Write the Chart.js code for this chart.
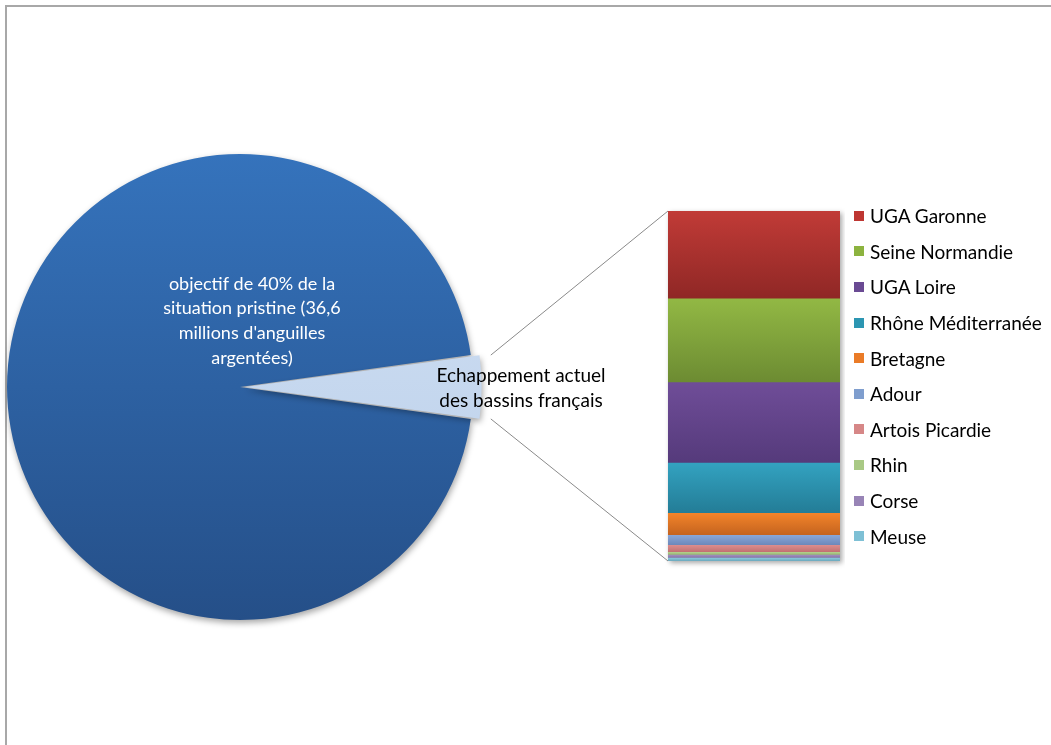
<!DOCTYPE html>
<html>
<head>
<meta charset="utf-8">
<title>Echappement des anguilles argentées</title>
<script src="https://cdn.jsdelivr.net/npm/chart.js"></script>
<style>
    body { margin: 0; background: #fff; overflow: hidden; }
    #page { position: relative; width: 1051px; height: 745px; overflow: hidden; font-family: Lato, sans-serif; }
    #frame { position: absolute; left: 5px; top: 5px; right: -10px; bottom: -10px;
             border-top: 2px solid #a8a8a8; border-left: 2px solid #a8a8a8; }
    #pieChart { position: absolute; left: 0; top: 0; }
    #barChart { position: absolute; left: 660px; top: 195px; }
    #legend { position: absolute; left: 854px; top: 198px; margin: 0; padding: 0; list-style: none; }
    #legend li { height: 35.6px; display: flex; align-items: center; font-size: 19px; color: #000; white-space: nowrap; }
    #legend .box { width: 10px; height: 10px; margin-right: 6px; flex: none; }
</style>
</head>
<body>
<div id="page">
    <div id="frame"></div>
    <canvas id="pieChart" width="1051" height="745"></canvas>
    <canvas id="barChart" width="185" height="385"></canvas>
    <ul id="legend"></ul>
</div>

<script>
    // données (millions d'anguilles argentées)
    const pieLines = [
        ['objectif de 40% de la', 'situation pristine (36,6', "millions d'anguilles", 'argentées)'],
        ['Echappement actuel', 'des bassins français']
    ];
    const objectif = 36.6;
    const bassins = ['UGA Garonne', 'Seine Normandie', 'UGA Loire', 'Rhône Méditerranée', 'Bretagne',
                     'Adour', 'Artois Picardie', 'Rhin', 'Corse', 'Meuse'];
    const echappement = [0.42, 0.40, 0.385, 0.24, 0.105, 0.048, 0.033, 0.014, 0.014, 0.014];

    // couleurs (haut / bas du dégradé)
    const haut = ['#c13b37', '#92b844', '#6f4d98', '#33a2c0', '#f2842a', '#88a6d8', '#db8c8c', '#b2d08c', '#a08dbf', '#88c8dc'];
    const bas  = ['#8f2725', '#6c8b32', '#553a7b', '#237c96', '#c4631f', '#6b87b9', '#c07070', '#93b06d', '#8270a0', '#6ba8bc'];
    const legendCol = ['#be3632', '#8cb33f', '#6a4a93', '#2c96b2', '#ea7b27', '#7f9ece', '#d68787', '#a9c985', '#9884b6', '#7ec0d5'];

    const total = echappement.reduce((a, b) => a + b, 0);
    const part = total / (objectif + total);

    // ---- barre empilée ----
    function barFill(i) {
        return function(ctx) {
            const y = ctx.chart.scales.y;
            if (ctx.type !== 'data' || !y) return legendCol[i];
            const start = echappement.slice(i + 1).reduce((a, b) => a + b, 0);
            const y0 = y.getPixelForValue(start + echappement[i]);
            const y1 = y.getPixelForValue(start);
            if (!isFinite(y0) || !isFinite(y1) || y0 === y1) return legendCol[i];
            const g = ctx.chart.ctx.createLinearGradient(0, y0, 0, y1);
            g.addColorStop(0, haut[i]);
            g.addColorStop(1, bas[i]);
            return g;
        };
    }

    const barShadow = {
        id: 'barShadow',
        beforeDatasetsDraw(chart) {
            const top = chart.getDatasetMeta(chart.data.datasets.length - 1).data[0];
            const bottom = chart.getDatasetMeta(0).data[0];
            const c = chart.ctx;
            c.save();
            c.shadowColor = 'rgba(0,0,0,0.35)';
            c.shadowBlur = 5;
            c.shadowOffsetX = 2;
            c.shadowOffsetY = 2;
            c.fillStyle = '#fff';
            c.fillRect(top.x - top.width / 2, top.y, top.width, bottom.base - top.y);
            c.restore();
        }
    };

    const barChart = new Chart(document.getElementById('barChart'), {
        type: 'bar',
        data: {
            labels: ['Echappement actuel'],
            // de bas en haut : Meuse ... UGA Garonne
            datasets: bassins.map((b, i) => ({
                label: b,
                data: [echappement[i]],
                backgroundColor: barFill(i),
                borderWidth: 0,
                barPercentage: 1,
                categoryPercentage: 1
            })).reverse()
        },
        options: {
            responsive: false,
            animation: false,
            layout: { padding: { left: 8, right: 5, top: 16, bottom: 19 } },
            scales: {
                x: { stacked: true, display: false },
                y: { stacked: true, display: false, min: 0, max: total }
            },
            plugins: { legend: { display: false }, tooltip: { enabled: false } }
        },
        plugins: [barShadow]
    });

    // légende
    const legendEl = document.getElementById('legend');
    bassins.forEach((b, i) => {
        const li = document.createElement('li');
        li.innerHTML = '<span class="box" style="background:' + legendCol[i] + '"></span>' + b;
        legendEl.appendChild(li);
    });

    // ---- camembert ----
    function pieFill(ctx) {
        const chart = ctx.chart;
        const area = chart.chartArea;
        const r = chart.getDatasetMeta(0).controller.outerRadius;
        const solid = ctx.dataIndex === 1 ? '#c6d9f0' : '#2f64a6';
        if (!area || !isFinite(r) || r <= 0) return solid;
        const cy = (area.top + area.bottom) / 2;
        if (!isFinite(cy)) return solid;
        const g = chart.ctx.createLinearGradient(0, cy - r, 0, cy + r);
        if (ctx.dataIndex === 1) {
            g.addColorStop(0, '#d3e2f5');
            g.addColorStop(1, '#b8cde8');
        } else {
            g.addColorStop(0, '#3573bc');
            g.addColorStop(1, '#254f88');
        }
        return g;
    }

    const pieExtras = {
        id: 'pieExtras',
        beforeDatasetsDraw(chart) {
            const c = chart.ctx;
            c.save();
            c.shadowColor = 'rgba(0,0,0,0.35)';
            c.shadowBlur = 6;
            c.shadowOffsetX = 1;
            c.shadowOffsetY = 3;
        },
        afterDatasetsDraw(chart) {
            const c = chart.ctx;
            c.restore();

            const arcs = chart.getDatasetMeta(0).data;
            const cx = arcs[0].x, cy = arcs[0].y;

            // lignes de liaison vers la barre
            const a = arcs[1];
            const mid = (a.startAngle + a.endAngle) / 2;
            const off = a.options.offset;
            const ox = a.x + Math.cos(mid) * off, oy = a.y + Math.sin(mid) * off;
            const p1 = [ox + Math.cos(a.startAngle) * a.outerRadius, oy + Math.sin(a.startAngle) * a.outerRadius];
            const p2 = [ox + Math.cos(a.endAngle) * a.outerRadius, oy + Math.sin(a.endAngle) * a.outerRadius];

            const bc = barChart.canvas;
            const n = barChart.data.datasets.length;
            const topBar = barChart.getDatasetMeta(n - 1).data[0];
            const botBar = barChart.getDatasetMeta(0).data[0];
            const bx = bc.offsetLeft + topBar.x - topBar.width / 2;
            const q1 = [bx, bc.offsetTop + topBar.y];
            const q2 = [bx, bc.offsetTop + botBar.base];

            c.save();
            c.strokeStyle = '#8a8a8a';
            c.lineWidth = 1;
            c.beginPath();
            c.moveTo(p1[0], p1[1]); c.lineTo(q1[0], q1[1]);
            c.moveTo(p2[0], p2[1]); c.lineTo(q2[0], q2[1]);
            c.stroke();

            // étiquettes
            c.textAlign = 'center';
            c.textBaseline = 'middle';
            const lh = 24.7;
            c.font = '18px Lato';
            c.fillStyle = '#ffffff';
            pieLines[0].forEach((t, i) => c.fillText(t, cx + 12, cy - 66 + (i - 1.5) * lh));
            c.font = '19px Lato';
            c.fillStyle = '#000000';
            pieLines[1].forEach((t, i) => c.fillText(t, cx + 281, cy + 1.5 + (i - 0.5) * lh));
            c.restore();
        }
    };

    new Chart(document.getElementById('pieChart'), {
        type: 'pie',
        data: {
            labels: pieLines.map(l => l.join(' ')),
            datasets: [{
                data: [objectif, total],
                backgroundColor: pieFill,
                borderWidth: 0,
                offset: [0, 20]
            }]
        },
        options: {
            responsive: false,
            animation: false,
            rotation: 90 + part * 180,
            radius: 233,
            layout: { padding: { left: 0, right: 571, top: 29, bottom: 0 } },
            plugins: { legend: { display: false }, tooltip: { enabled: false } }
        },
        plugins: [pieExtras]
    });
</script>
</body>
</html>
